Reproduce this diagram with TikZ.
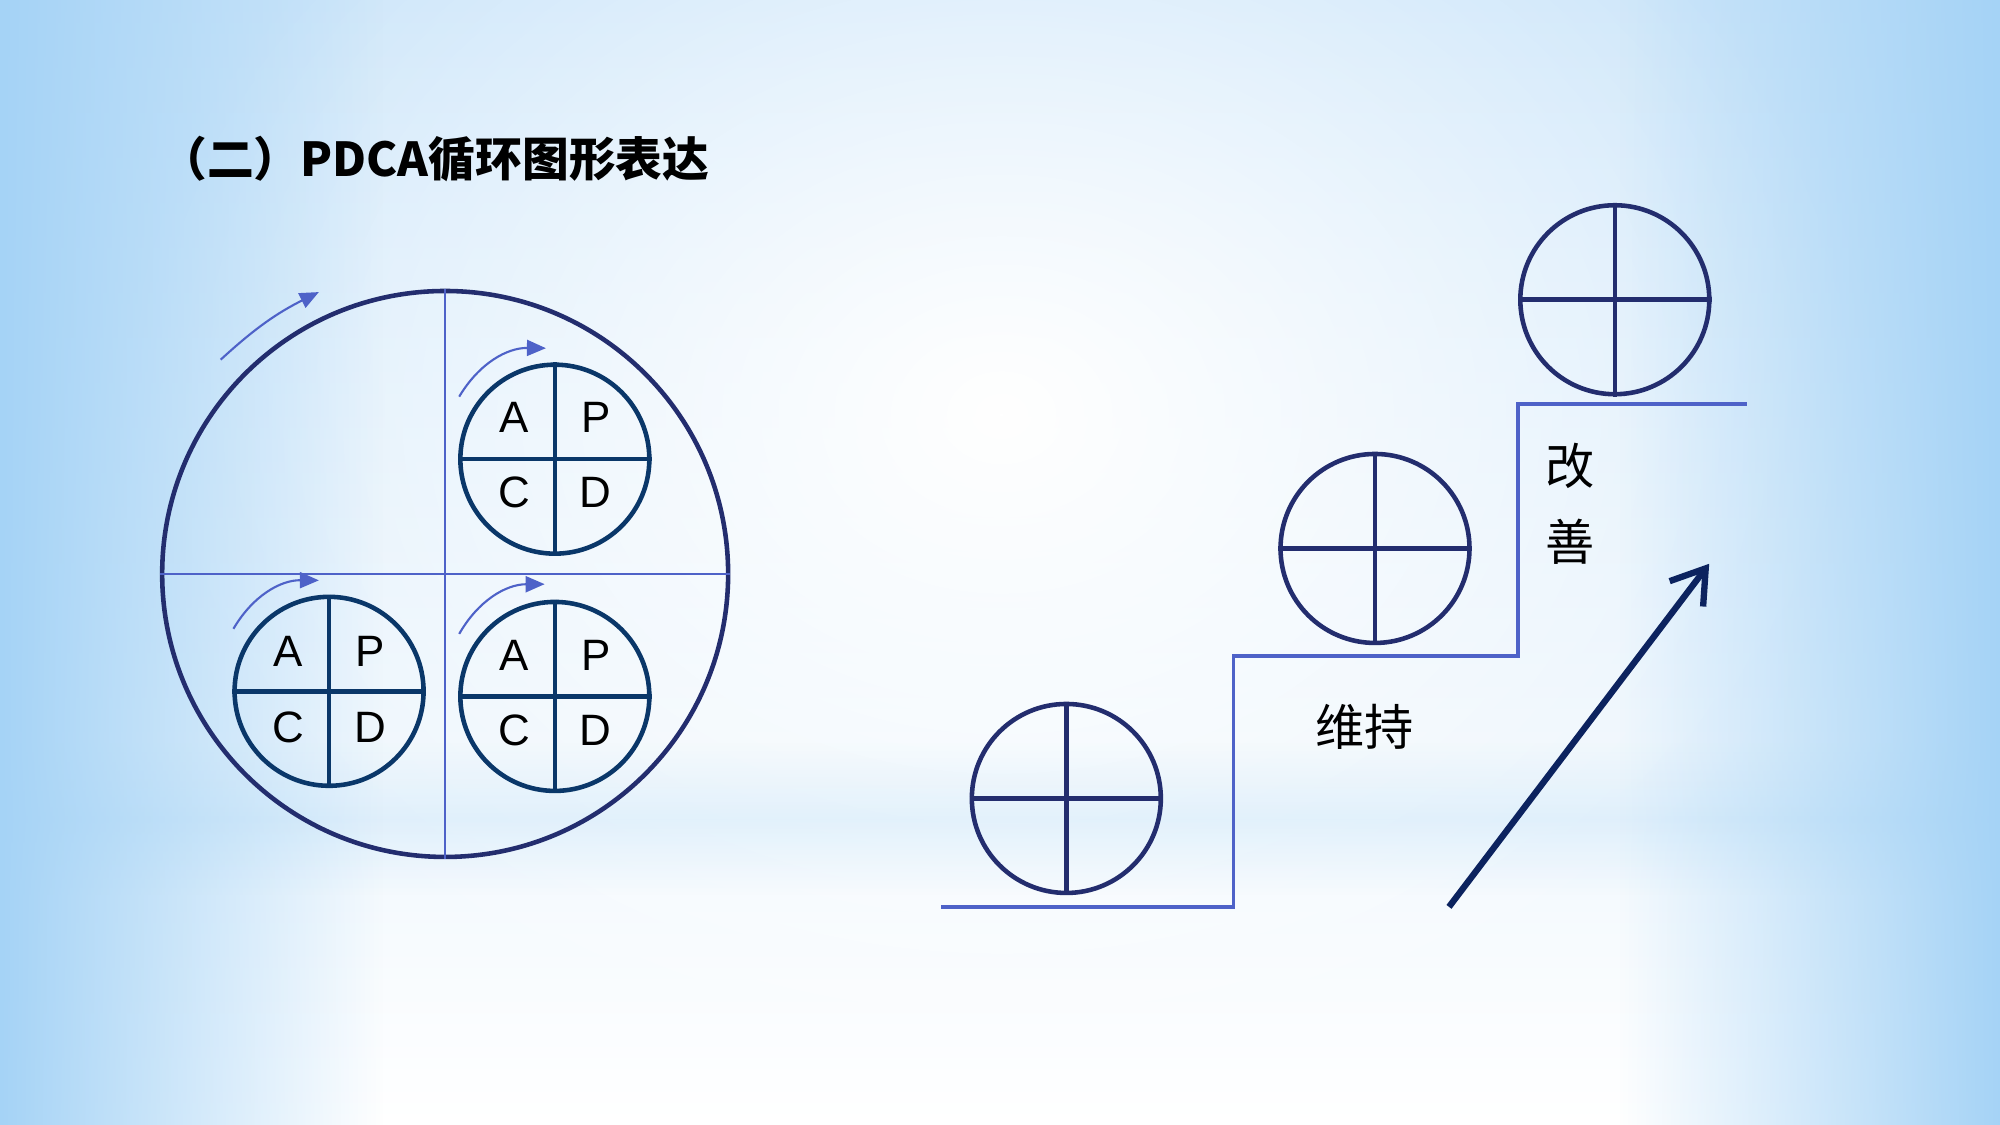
\documentclass[tikz,border=0pt]{standalone}
\usepackage{fontspec}
\setmainfont{Liberation Sans}
\newfontfamily\cjk{Noto Sans CJK SC}
\usepackage{tikz}
\usetikzlibrary{positioning, arrows.meta, fadings}

\definecolor{bgblue}{RGB}{165,211,246}
\definecolor{bgtop}{RGB}{205,230,250}
\definecolor{bandblue}{RGB}{190,224,247}
\definecolor{ringnavy}{RGB}{35,45,110}
\definecolor{pdcanavy}{RGB}{10,55,105}
\definecolor{lineblue}{RGB}{78,98,200}
\definecolor{arrownavy}{RGB}{12,35,95}

\tikzfading[name=fadeR, left color=transparent!0, right color=transparent!100]
\tikzfading[name=fadeL, left color=transparent!100, right color=transparent!0]
\tikzfading[name=glow, inner color=transparent!0, outer color=transparent!100]
\tikzfading[name=bandfade, top color=transparent!100, bottom color=transparent!100, middle color=transparent!65]

\begin{document}
\begin{tikzpicture}[x=0.012755cm,y=0.012755cm,
        big/.style={circle,draw=ringnavy,line width=1.3pt,minimum size=5.66cm,inner sep=0pt},
        pdca/.style={circle,draw=pdcanavy,line width=1.3pt,minimum size=1.89cm,inner sep=0pt},
        wheel/.style={circle,draw=ringnavy,line width=1.3pt,minimum size=1.89cm,inner sep=0pt},
        letter/.style={font=\fontsize{12.5}{14}\selectfont,text=black},
        turn/.style={lineblue,line width=0.6pt,-{Triangle[length=1.9mm,width=1.6mm]}},
        word/.style={font=\cjk\fontsize{14}{16}\selectfont,text=black}]

        % background
        \useasboundingbox (0,0) rectangle (1568,882);
        \shade[top color=bgtop, bottom color=white] (0,0) rectangle (1568,882);
        \fill[white, path fading=glow] (785,557) ellipse (700 and 560);
        \fill[bandblue, path fading=bandfade] (0,180) rectangle (1568,300);
        \fill[bgblue, path fading=fadeR] (0,0) rectangle (300,882);
        \fill[bgblue, path fading=fadeL] (1270,0) rectangle (1568,882);

        \node[anchor=west,font=\cjk\bfseries\fontsize{13.3}{15}\selectfont] (title) at (116,757) {（二）PDCA循环图形表达};

        % left: big cycle
        \node[big] (cycle) at (349,432) {};
        \path[lineblue,line width=0.6pt]
                  (cycle.north) edge (cycle.south)
                  (cycle.west)  edge (cycle.east);
        \coordinate (c0a) at (173,600);
        \coordinate (c0b) at (250,653);
        \draw[turn] (c0a) to[bend left=8] (c0b);

        \node[pdca] (p1) at (435,522) {};
        \node[pdca] (p2) at (258,340) {};
        \node[pdca] (p3) at (435,336) {};
        \path[pdcanavy,line width=1.3pt]
                  (p1.north) edge (p1.south)
                  (p1.west)  edge (p1.east)
                  (p2.north) edge (p2.south)
                  (p2.west)  edge (p2.east)
                  (p3.north) edge (p3.south)
                  (p3.west)  edge (p3.east);

        \node[letter] (a1) at ([shift={(-32,33)}]p1) {A};
        \node[letter] (b1) at ([shift={(32,33)}]p1)  {P};
        \node[letter] (c1) at ([shift={(-32,-26)}]p1) {C};
        \node[letter] (d1) at ([shift={(32,-26)}]p1)  {D};

        \node[letter] (a2) at ([shift={(-32,31)}]p2) {A};
        \node[letter] (b2) at ([shift={(32,31)}]p2)  {P};
        \node[letter] (c2) at ([shift={(-32,-28)}]p2) {C};
        \node[letter] (d2) at ([shift={(32,-28)}]p2)  {D};

        \node[letter] (a3) at ([shift={(-32,32)}]p3) {A};
        \node[letter] (b3) at ([shift={(32,32)}]p3)  {P};
        \node[letter] (c3) at ([shift={(-32,-27)}]p3) {C};
        \node[letter] (d3) at ([shift={(32,-27)}]p3)  {D};

        \coordinate (t1a) at (360,571);
        \coordinate (t1b) at (428,609);
        \coordinate (t2a) at (183,389);
        \coordinate (t2b) at (250,427);
        \coordinate (t3a) at (360,385);
        \coordinate (t3b) at (427,424);
        \draw[turn] (t1a) to[bend left=30] (t1b);
        \draw[turn] (t2a) to[bend left=30] (t2b);
        \draw[turn] (t3a) to[bend left=30] (t3b);

        % right: steps
        \node[wheel] (w1) at (836,256) {};
        \node[wheel] (w2) at (1078,452) {};
        \node[wheel] (w3) at (1266,647) {};
        \path[ringnavy,line width=1.3pt]
                  (w1.north) edge (w1.south)
                  (w1.west)  edge (w1.east)
                  (w2.north) edge (w2.south)
                  (w2.west)  edge (w2.east)
                  (w3.north) edge (w3.south)
                  (w3.west)  edge (w3.east);

        \draw[lineblue,line width=1.1pt] (738,171) -- (967,171) -- (967,368) -- (1190,368)
                  -- (1190,565) -- (1370,565);

        \node[word] (keep) at (1070,312) {维持};
        \node[word] (gai) at (1231,517) {改};
        \node[word] (shan) at (1231,457) {善};

        \coordinate (base) at (1136,171);
        \coordinate (peak) at (1340,440);
        \draw[arrownavy,line width=1.8pt,-{Straight Barb[length=3.2mm,width=4.2mm]}] (base) -- (peak);
    \end{tikzpicture}
\end{document}
